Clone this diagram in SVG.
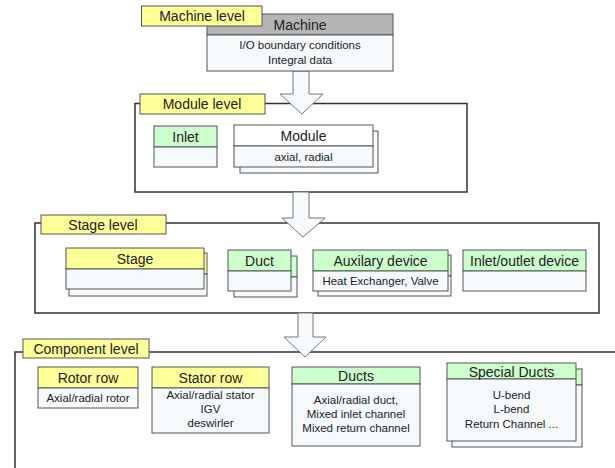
<svg xmlns="http://www.w3.org/2000/svg" width="615" height="468" viewBox="0 0 615 468">
<style>
text{font-family:"Liberation Sans",Arial,sans-serif;fill:#222;text-anchor:middle}
.t{font-size:14px}
.s{font-size:11.5px}
.frame{fill:#fff;stroke:#333;stroke-width:1.5}
.lbl{fill:#FFFF99;stroke:#555;stroke-width:1}
.hy{fill:#FFFF99;stroke:#555;stroke-width:1}
.hg{fill:#CCFFCC;stroke:#555;stroke-width:1}
.hgr{fill:#B5B5B5;stroke:#555;stroke-width:1}
.body{fill:#F6FAFD;stroke:#555;stroke-width:1}
.arrow{fill:#F6FAFD;stroke:#777;stroke-width:1}
</style>
<rect width="615" height="468" fill="#fff"/>

<g id="frames">
<rect class="frame" x="135" y="103.5" width="332" height="88.5"/>
<rect class="frame" x="35" y="223" width="564" height="90"/>
<path class="frame" d="M15,468 V352 H616" fill="none"/>
</g>

<g id="connectors">
<path class="arrow" d="M293,71 V94 H280 L302,114 L323,94 H309 V71 Z"/>
<path class="arrow" d="M293,192 V218 H282 L303,237 L325,218 H309 V192 Z"/>
<path class="arrow" d="M298,313 V337 H284 L305,357 L326,337 H313 V313 Z"/>
</g>

<g id="machine">
<rect class="hgr" x="207" y="14" width="186" height="21"/>
<rect class="body" x="207" y="35" width="186" height="36"/>
<text class="t" x="300" y="29.5">Machine</text>
<text class="s" x="300" y="49">I/O boundary conditions</text>
<text class="s" x="300" y="64">Integral data</text>
</g>
<g id="machine-level">
<rect class="lbl" x="141.5" y="6" width="120.5" height="20"/>
<text class="t" x="202" y="21">Machine level</text>
</g>

<g id="module-level">
<rect class="lbl" x="140" y="94" width="125" height="20"/>
<text class="t" x="202" y="109">Module level</text>
</g>
<g id="inlet">
<rect class="hg" x="154" y="126" width="63" height="21"/>
<rect class="body" x="154" y="147" width="63" height="20"/>
<text class="t" x="185.5" y="141.5">Inlet</text>
</g>
<g id="module">
<rect class="body" x="240" y="131" width="138" height="42"/>
<rect class="body" x="234" y="125" width="139" height="21" style="fill:#fff"/>
<rect class="body" x="234" y="146" width="139" height="21"/>
<text class="t" x="303.5" y="140.5">Module</text>
<text class="s" x="303.5" y="160.5">axial, radial</text>
</g>

<g id="stage-level">
<rect class="lbl" x="41" y="215" width="125" height="19"/>
<text class="t" x="103" y="229.5">Stage level</text>
</g>
<g id="stage">
<rect class="hy" x="69" y="253" width="138" height="21"/>
<rect class="body" x="69" y="274" width="138" height="22"/>
<rect class="hy" x="66" y="248" width="138" height="21"/>
<rect class="body" x="66" y="269" width="138" height="20"/>
<text class="t" x="135" y="263.5">Stage</text>
</g>
<g id="duct">
<rect class="hg" x="234" y="256" width="63" height="21"/>
<rect class="body" x="234" y="277" width="63" height="20"/>
<rect class="hg" x="228" y="250" width="63" height="21"/>
<rect class="body" x="228" y="271" width="63" height="20"/>
<text class="t" x="259.5" y="265.5">Duct</text>
</g>
<g id="auxilary-device">
<rect class="hg" x="318" y="255" width="133" height="21"/>
<rect class="body" x="318" y="276" width="133" height="20"/>
<rect class="hg" x="313" y="250" width="135" height="21"/>
<rect class="body" x="313" y="271" width="135" height="20"/>
<text class="t" x="380.5" y="265.5">Auxilary device</text>
<text class="s" x="380.5" y="285">Heat Exchanger, Valve</text>
</g>
<g id="inlet-outlet-device">
<rect class="hg" x="463" y="250" width="123" height="21"/>
<rect class="body" x="463" y="271" width="123" height="20"/>
<text class="t" x="524.5" y="265.5">Inlet/outlet device</text>
</g>

<g id="component-level">
<rect class="lbl" x="23" y="339" width="126" height="19"/>
<text class="t" x="86" y="353.5">Component level</text>
</g>
<g id="rotor-row">
<rect class="hy" x="38" y="367" width="100" height="21"/>
<rect class="body" x="38" y="388" width="100" height="20"/>
<text class="t" x="88" y="382.5">Rotor row</text>
<text class="s" x="88" y="402">Axial/radial rotor</text>
</g>
<g id="stator-row">
<rect class="hy" x="152" y="367" width="117" height="21"/>
<rect class="body" x="152" y="388" width="117" height="45"/>
<text class="t" x="210.5" y="382.5">Stator row</text>
<text class="s" x="210.5" y="399">Axial/radial stator</text>
<text class="s" x="210.5" y="413">IGV</text>
<text class="s" x="210.5" y="427">deswirler</text>
</g>
<g id="ducts">
<rect class="hg" x="292" y="367" width="128" height="17"/>
<rect class="body" x="292" y="384" width="128" height="62"/>
<text class="t" x="356" y="381">Ducts</text>
<text class="s" x="356" y="404">Axial/radial duct,</text>
<text class="s" x="356" y="418">Mixed inlet channel</text>
<text class="s" x="356" y="432">Mixed return channel</text>
</g>
<g id="special-ducts">
<rect class="hg" x="452" y="369" width="130" height="16"/>
<rect class="body" x="452" y="385" width="130" height="62"/>
<rect class="hg" x="447" y="363" width="129" height="16"/>
<rect class="body" x="447" y="379" width="129" height="62"/>
<text class="t" x="511.5" y="376.5">Special Ducts</text>
<text class="s" x="511.5" y="399">U-bend</text>
<text class="s" x="511.5" y="413">L-bend</text>
<text class="s" x="511.5" y="428">Return Channel ...</text>
</g>
</svg>
